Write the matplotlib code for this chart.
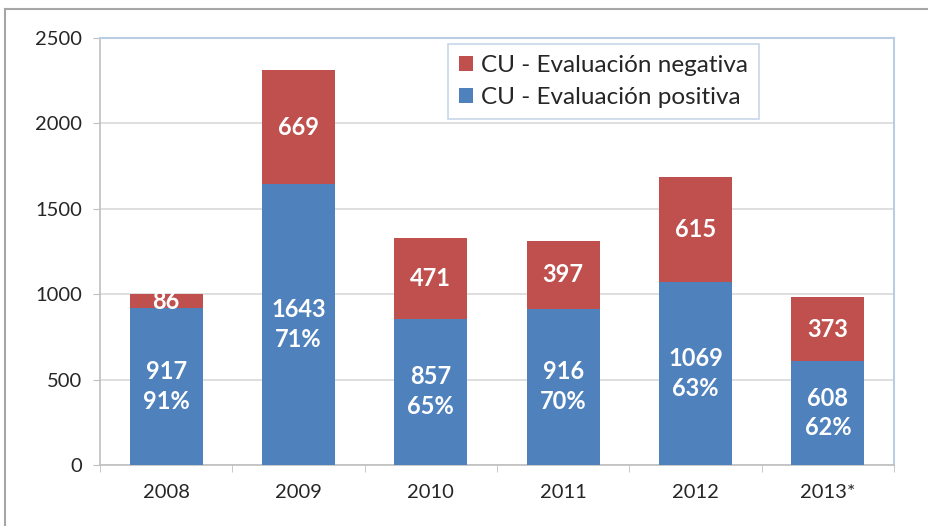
import matplotlib
matplotlib.use('Agg')
import matplotlib.pyplot as plt
from matplotlib.lines import Line2D
import numpy as np

plt.rcParams['font.family'] = ['Lato', 'DejaVu Sans']

years = ['2008', '2009', '2010', '2011', '2012', '2013*']
positiva = [917, 1643, 857, 916, 1069, 608]
negativa = [86, 669, 471, 397, 615, 373]
pct_pos = [91, 71, 65, 70, 63, 62]

blue = '#4F81BD'
red = '#C0504D'
grid_gray = '#D9D9D9'
axis_gray = '#BFBFBF'
frame_blue = '#B9CDE5'

fig = plt.figure(figsize=(9.29, 5.26), dpi=100)
ax = fig.add_axes([100/929, 61/526, 794/929, 427/526])

x = np.arange(len(years))
w = 0.55
ax.bar(x, positiva, w, color=blue, label='CU - Evaluación positiva', zorder=3)
ax.bar(x, negativa, w, bottom=positiva, color=red, label='CU - Evaluación negativa', zorder=3)

for xi, p, n, pc in zip(x, positiva, negativa, pct_pos):
  ax.text(xi, p/2, f'{p}\n{pc}%', ha='center', va='center', color='white',
          fontsize=17, fontweight='bold', linespacing=1.35, zorder=4)
  ax.text(xi, p + n/2, f'{n}', ha='center', va='center', color='white',
          fontsize=17, fontweight='bold', zorder=4)

ax.set_xlim(-0.5, len(years) - 0.5)
ax.set_ylim(0, 2500)
ax.set_yticks([0, 500, 1000, 1500, 2000, 2500])
ax.set_xticks(x)
ax.set_xticklabels(years)
ax.set_xticks(np.arange(len(years) + 1) - 0.5, minor=True)
ax.tick_params(axis='x', which='major', length=0, pad=14, labelsize=14.5, colors='#262626')
ax.tick_params(axis='x', which='minor', length=5, color=axis_gray, direction='out')
ax.tick_params(axis='y', length=5, color=axis_gray, labelsize=14.5, pad=8, labelcolor='#262626')
ax.yaxis.grid(True, color=grid_gray, lw=1.2, zorder=0)
ax.set_axisbelow(True)

for s in ('left', 'bottom'):
  ax.spines[s].set_color(axis_gray)
  ax.spines[s].set_linewidth(1.2)
for s in ('top', 'right'):
  ax.spines[s].set_color(frame_blue)
  ax.spines[s].set_linewidth(1.5)

h, l = ax.get_legend_handles_labels()
leg = ax.legend(h[::-1], l[::-1], loc='upper left', bbox_to_anchor=(0.438, 0.986),
                fontsize=17.5, frameon=True, fancybox=False, handlelength=0.6,
                handleheight=0.6, handletextpad=0.3, labelspacing=0.45,
                borderpad=0.45, borderaxespad=0)
leg.get_frame().set_edgecolor(frame_blue)
leg.get_frame().set_linewidth(1.2)
for t in leg.get_texts():
  t.set_color('#262626')

# outer chart frame (clipped at right and bottom in the reference)
fig.add_artist(Line2D([5.5/929, 5.5/929], [0, 1 - 9/526], color='#A6A6A6', lw=1.5))
fig.add_artist(Line2D([5.5/929, 1], [1 - 9/526, 1 - 9/526], color='#A6A6A6', lw=1.5))

fig.savefig('out.png', dpi=100)
